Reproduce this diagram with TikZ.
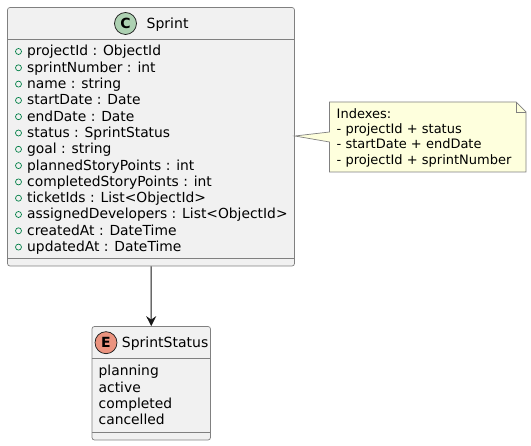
\documentclass[tikz,border=0pt]{standalone}
\usepackage{fontspec}
\setmainfont{DejaVu Sans}
\usetikzlibrary{arrows.meta}
\definecolor{boxfill}{HTML}{F1F1F1}
\definecolor{boxline}{HTML}{181818}
\definecolor{notefill}{HTML}{FEFFDD}
\definecolor{classicon}{HTML}{ADD1B2}
\definecolor{enumicon}{HTML}{EB937F}
\definecolor{fieldmark}{HTML}{038048}
\tikzset{
  umlbox/.style={draw=boxline!55,fill=boxfill,line width=0.7pt,rounded corners=2.5pt,inner sep=0pt},
  sepline/.style={draw=boxline!55,line width=0.7pt},
  icon/.style={circle,draw=boxline,line width=0.7pt,minimum size=22pt,inner sep=0pt,font=\fontsize{14}{14}\selectfont\bfseries},
  title/.style={anchor=base west,inner sep=0pt,font=\fontsize{14}{14}\selectfont},
  row/.style={anchor=base west,inner sep=0pt,font=\fontsize{13.85}{14}\selectfont},
  noterow/.style={anchor=base west,inner sep=0pt,font=\fontsize{13}{13}\selectfont}
}
\begin{document}
\begin{tikzpicture}[x=1pt,y=-1pt]
  \useasboundingbox (0,0) rectangle (531,446);

  % Sprint
  \node[umlbox,minimum width=287pt,minimum height=258.5pt] (sprint) at (151,136.75) {};
  \draw[sepline] (sprint.west |- 0,39.5) -- (sprint.east |- 0,39.5);
  \draw[sepline] (sprint.west |- 0,258) -- (sprint.east |- 0,258);
  \node[icon,fill=classicon] (sprinticon) at (125.5,23.5) {C};
  \node[title] (sprinttitle) at (146.5,28.5) {Sprint};

  % Felder
  \foreach \i/\txt in {0/projectId : ObjectId,1/sprintNumber : int,2/name : string,
    3/startDate : Date,4/endDate : Date,5/status : SprintStatus,6/goal : string,
    7/plannedStoryPoints : int,8/completedStoryPoints : int,9/ticketIds : List<ObjectId>,
    10/assignedDevelopers : List<ObjectId>,11/createdAt : DateTime,12/updatedAt : DateTime}{
    \draw[fieldmark,line width=0.7pt] (18.5,{51.5+\i*16.3}) circle (3pt);
    \node[row] (field\i) at (27,{56+\i*16.3}) {\txt};
  }

  % SprintStatus
  \node[umlbox,minimum width=118.5pt,minimum height=113.5pt] (status) at (151.25,383.25) {};
  \draw[sepline] (status.west |- 0,358) -- (status.east |- 0,358);
  \draw[sepline] (status.west |- 0,432) -- (status.east |- 0,432);
  \node[icon,fill=enumicon] (statusicon) at (106,342.7) {E};
  \node[title] (statustitle) at (121.7,348) {SprintStatus};
  \foreach \i/\txt in {0/planning,1/active,2/completed,3/cancelled}{
    \node[row] (value\i) at (98.5,{376+\i*16.3}) {\txt};
  }

  % Verbindung
  \draw[-{Stealth[length=10pt,width=10pt,inset=3.5pt]},boxline,line width=1pt] (sprint.south) -- (status.north);

  % Notiz
  \coordinate (notetip) at (sprint.east |- 0,136);
  \draw[draw=boxline!55,fill=notefill,line width=0.7pt]
    (329.5,102) -- (516,102) -- (526,112) -- (526,172) -- (329.5,172) -- (329.5,142)
    -- (notetip) -- (329.5,132) -- cycle;
  \draw[draw=boxline!55,line width=0.7pt] (516,102) -- (516,112) -- (526,112);
  \foreach \i/\txt in {0/Indexes:,1/- projectId + status,2/- startDate + endDate,3/- projectId + sprintNumber}{
    \node[noterow] (note\i) at (336.5,{118.5+\i*15.2}) {\txt};
  }
\end{tikzpicture}
\end{document}
